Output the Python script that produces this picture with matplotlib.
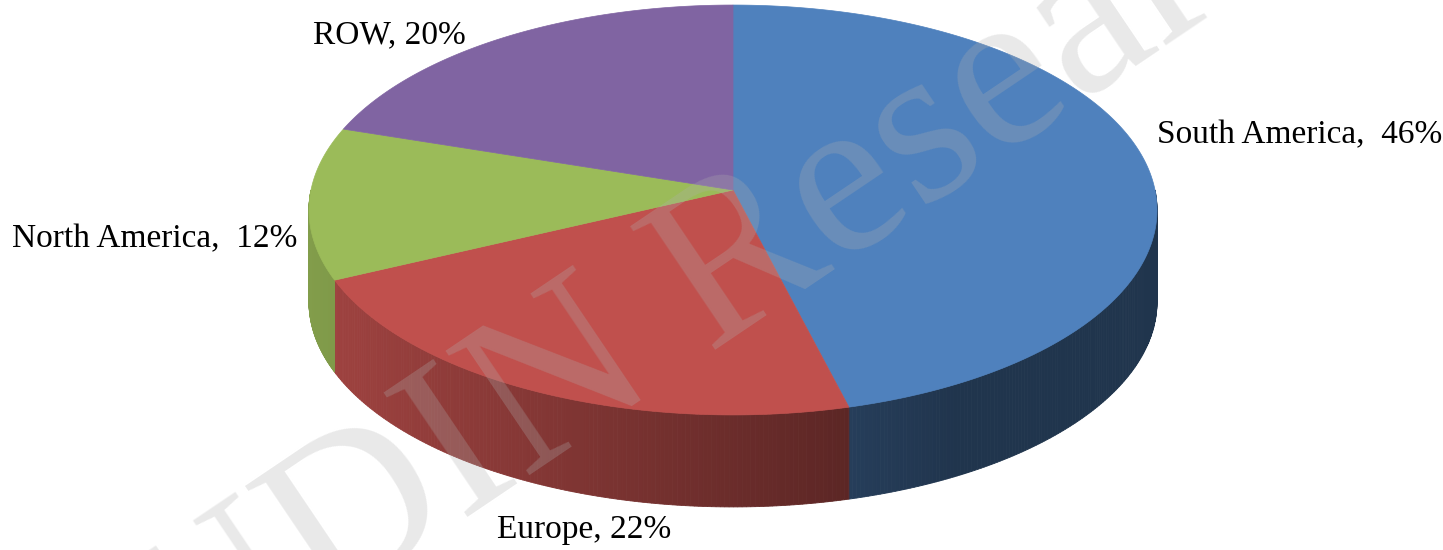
import numpy as np
import matplotlib
matplotlib.use("Agg")
import matplotlib.pyplot as plt
from matplotlib.patches import Polygon

# data
regions = ["South America", "Europe", "North America", "ROW"]
shares = [46, 22, 12, 20]
labels = ["South America,  46%", "Europe, 22%", "North America,  12%", "ROW, 20%"]
colors = ["#4F81BD", "#C0504D", "#9BBB59", "#8064A2"]

# layout of the 3d pie, in pixel units
VX, VY = 733, 190      # projected pie centre (where the slices meet)
SX, SY = 422, 203      # radii before perspective
E = 0.0975             # perspective strength (far edge shrinks)
H = 92                 # thickness


def rim(t0, t1, n=200):
    t = np.radians(np.linspace(t0, t1, n))
    d = 1 + E * np.sin(t)
    return VX + SX * np.cos(t) / d, VY - SY * np.sin(t) / d


def side_shade(x):
    # darker towards the right, like the excel 3d lighting
    return np.clip(0.84 - 0.36 * (x - 308) / 540, 0.41, 0.84)


fig = plt.figure(figsize=(14.43, 5.5), dpi=100, facecolor="w")
ax = fig.add_axes([0, 0, 1, 1])
ax.set_xlim(0, 1443)
ax.set_ylim(550, 0)
ax.axis("off")

fracs = np.array(shares) / sum(shares)
ends = 90 - 360 * np.cumsum(fracs)
starts = np.concatenate([[90], ends[:-1]])

# side walls first (front half only)
for s, e, c in zip(starts, ends, colors):
    base = np.array(matplotlib.colors.to_rgb(c))
    for shift in (0, 360, -360):
        a0, a1 = max(e + shift, 180), min(s + shift, 360)
        if a1 <= a0:
            continue
        xs, ys = rim(a0, a1, 150)
        for i in range(len(xs) - 1):
            col = base * side_shade(0.5 * (xs[i] + xs[i + 1]))
            quad = [(xs[i], ys[i]), (xs[i + 1], ys[i + 1]),
                    (xs[i + 1], ys[i + 1] + H), (xs[i], ys[i] + H)]
            ax.add_patch(Polygon(quad, closed=True, fc=col, ec=col, lw=0.6, zorder=1))

# top faces
for s, e, c in zip(starts, ends, colors):
    xs, ys = rim(s, e, 300)
    pts = [(VX, VY)] + list(zip(xs, ys))
    ax.add_patch(Polygon(pts, closed=True, fc=c, ec=c, lw=0.5, zorder=2))

# labels
font = dict(family="Liberation Serif", fontsize=24, color="black", va="baseline")
ax.text(1157, 143, labels[0], ha="left", **font)
ax.text(497, 538, labels[1], ha="left", **font)
ax.text(297, 247, labels[2], ha="right", **font)
ax.text(313, 43, labels[3], ha="left", **font)

# watermark
ax.text(765, 250, "UDIN Research", family="Liberation Serif", fontsize=165,
        color="#B0B0B0", alpha=0.28, rotation=34, ha="center", va="center",
        rotation_mode="anchor", zorder=5)

fig.savefig("out.png", dpi=100, facecolor="w")
